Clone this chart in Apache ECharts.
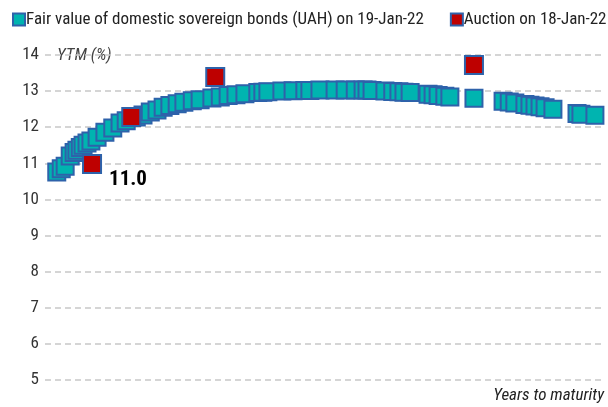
<!DOCTYPE html>
<html><head><meta charset="utf-8">
<script src="https://cdn.jsdelivr.net/npm/echarts@6/dist/echarts.min.js"></script>
<style>html,body{margin:0;padding:0;background:#fff}#c{width:608px;height:407px}</style>
</head><body><div id="c"></div>
<script>
const fvYears = [0.21,0.29,0.36,0.45,0.52,0.57,0.63,0.68,0.75,0.82,0.93,1.07,1.21,1.34,1.45,1.63,1.75,1.88,2.0,2.11,2.23,2.36,2.48,2.63,2.77,2.98,3.13,3.27,3.41,3.57,3.8,3.89,3.98,4.23,4.43,4.64,4.73,4.91,5.18,5.36,5.54,5.68,5.75,5.84,6.07,6.21,6.32,6.41,6.52,6.84,6.93,7.02,7.14,7.23,7.66,8.18,8.29,8.39,8.57,8.66,8.75,8.84,8.93,9.07,9.5,9.57,9.82];
const fvYield = [10.76,10.85,10.92,11.2,11.3,11.36,11.44,11.5,11.56,11.62,11.72,11.86,11.98,12.12,12.18,12.28,12.34,12.42,12.48,12.55,12.6,12.65,12.69,12.73,12.76,12.81,12.84,12.88,12.9,12.93,12.96,12.97,12.98,13.0,13.01,13.02,13.02,13.03,13.03,13.03,13.03,13.03,13.03,13.02,13.0,12.99,12.98,12.97,12.96,12.91,12.9,12.88,12.86,12.84,12.8,12.72,12.7,12.67,12.63,12.61,12.59,12.57,12.54,12.5,12.38,12.36,12.33];
const aucYears = [0.84,1.54,3.04,7.66];
const aucYield = [10.98,12.28,13.39,13.72];
const yTicks = [5,6,7,8,9,10,11,12,13,14];
const seriesNames = ['Fair value of domestic sovereign bonds (UAH) on 19-Jan-22','Auction on 18-Jan-22'];
const labelText = '11.0';

const FONT = '"Roboto Condensed","Liberation Sans Narrow",sans-serif';
const chart = echarts.init(document.getElementById('c'));
const aucData = aucYears.map((x,i)=>{
  const d = {value:[x,aucYield[i]]};
  if (i===0) d.label = {show:true, formatter:labelText, position:[27,15], fontSize:21, fontWeight:'bold', color:'#000', fontFamily:FONT};
  return d;
});
chart.setOption({
  animation:false,
  textStyle:{fontFamily:FONT},
  legend:{
    left:12, top:11, padding:0, itemWidth:12, itemHeight:12, itemGap:26, icon:'rect',
    textStyle:{fontSize:17, color:'#222', fontFamily:FONT, padding:[0,0,0,-4]},
    data:seriesNames
  },
  grid:{left:45, right:3, top:55, bottom:27},
  xAxis:{type:'value', min:0, max:10, show:false},
  yAxis:{type:'value', min:5, max:14, interval:1,
    axisLine:{show:false}, axisTick:{show:false},
    axisLabel:{fontSize:17, color:'#333', margin:6, fontFamily:FONT},
    splitLine:{lineStyle:{type:[6,4], color:'#c8c8c8', width:1.5}}
  },
  graphic:[
    {type:'text', left:57, top:47, style:{text:'YTM (%)', font:'italic 17px '+FONT, fill:'#444'}},
    {type:'text', right:4, top:387, style:{text:'Years to maturity', font:'italic 17px '+FONT, fill:'#222'}}
  ],
  series:[
    {name:seriesNames[0], type:'scatter', symbol:'rect', symbolSize:17, z:2,
     itemStyle:{color:'#00B4B0', borderColor:'#2E62AA', borderWidth:2, opacity:1},
     data:fvYears.map((x,i)=>[x,fvYield[i]])},
    {name:seriesNames[1], type:'scatter', symbol:'rect', symbolSize:18, z:3,
     itemStyle:{color:'#BE0000', borderColor:'#2E62AA', borderWidth:2, opacity:1},
     data:aucData}
  ]
});
</script></body></html>
